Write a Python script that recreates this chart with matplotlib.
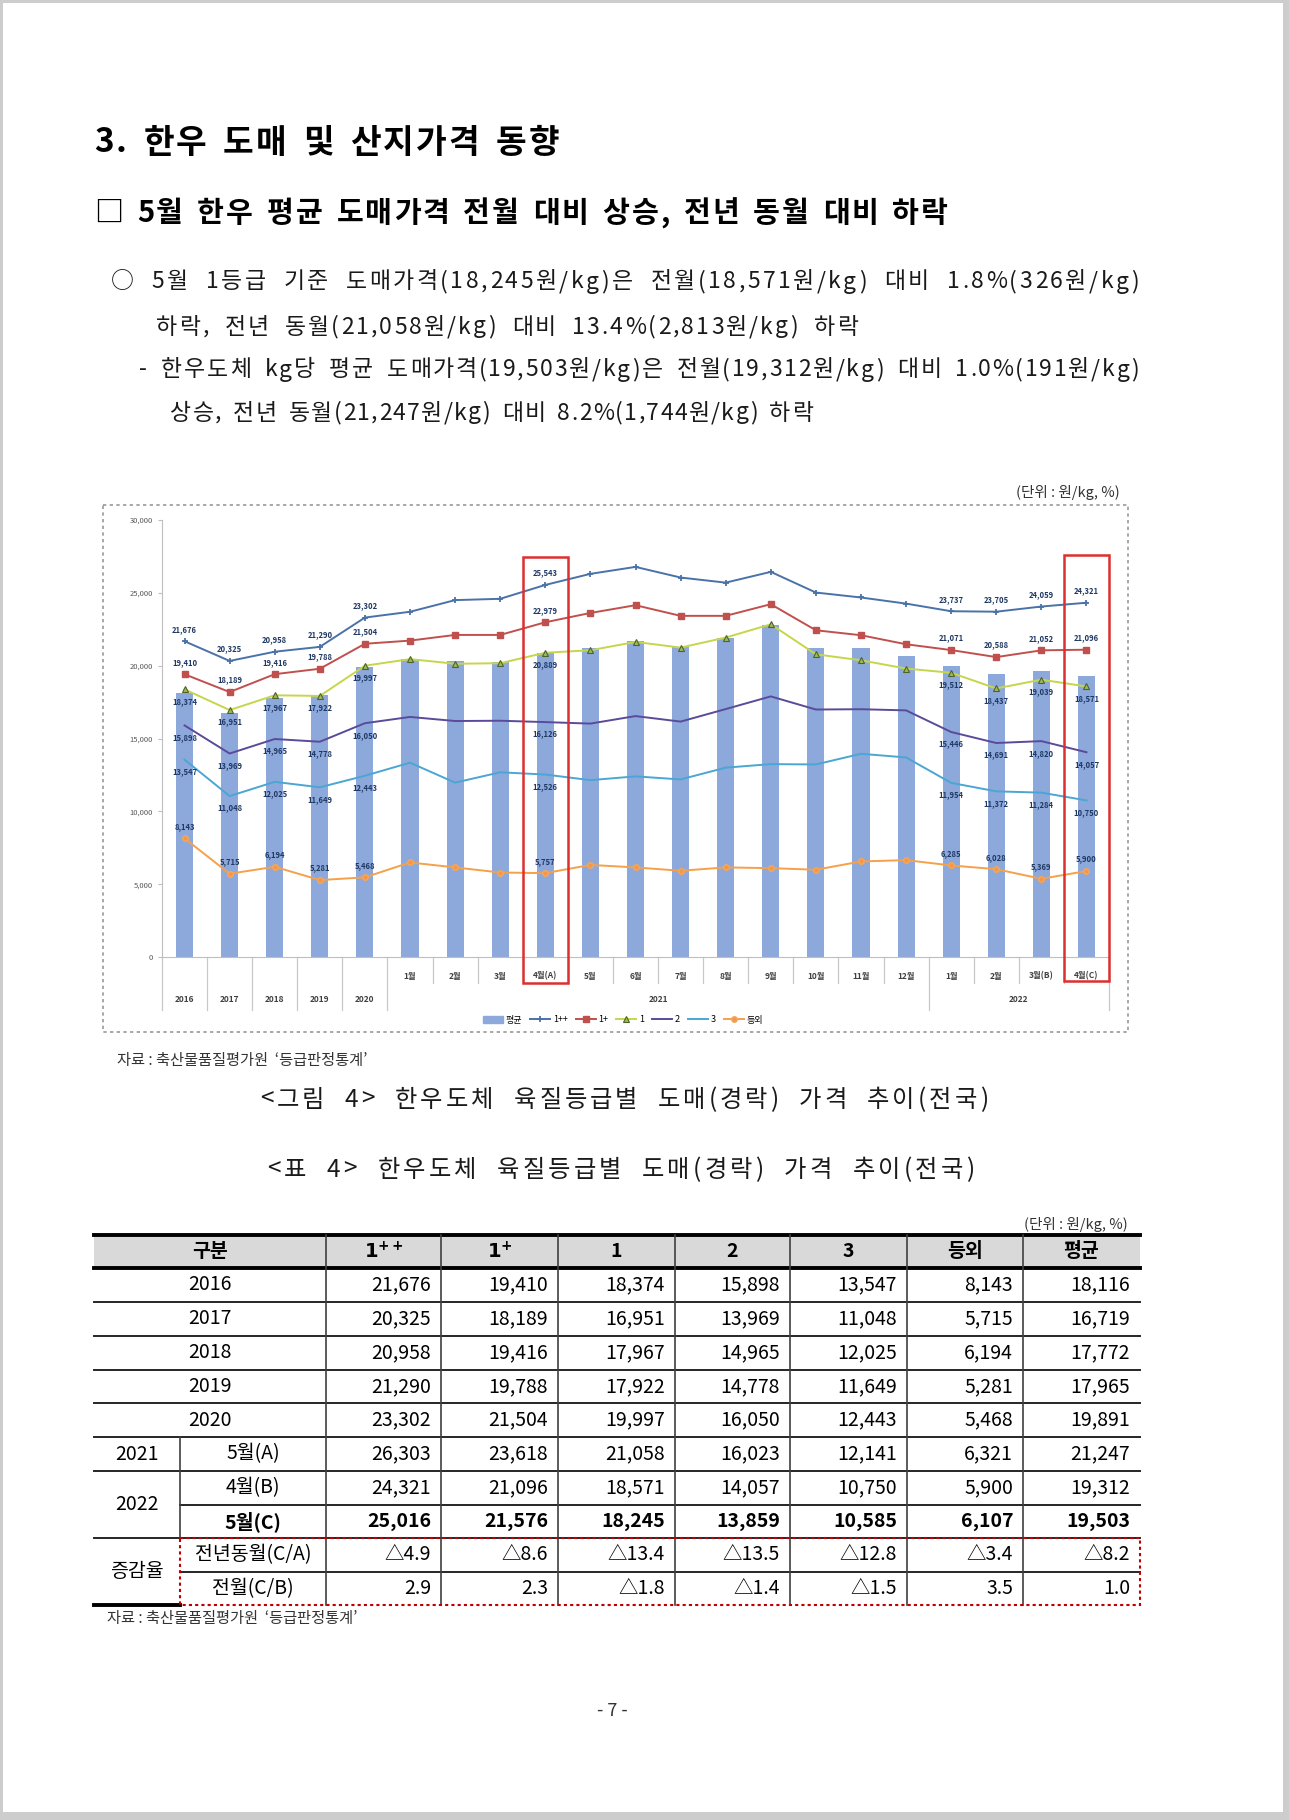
import matplotlib
matplotlib.use('Agg')
import matplotlib.pyplot as plt
from matplotlib.patches import Rectangle, Patch
from matplotlib.lines import Line2D
from matplotlib.ticker import FuncFormatter

plt.rcParams['font.family'] = ['Noto Sans CJK KR', 'DejaVu Sans']

W, H = 1289, 1820

# ---- chart data (원/kg) ----
categories = ['2016', '2017', '2018', '2019', '2020',
              '1월', '2월', '3월', '4월(A)', '5월', '6월', '7월', '8월', '9월',
              '10월', '11월', '12월', '1월', '2월', '3월(B)', '4월(C)']
groups = [('2021', 5, 16), ('2022', 17, 20)]
avg = [18116, 16719, 17772, 17965, 19891, 20480, 20300, 20250, 20850, 21247, 21680,
       21300, 21930, 22760, 21190, 21190, 20650, 19980, 19460, 19640, 19312]
g1pp = [21676, 20325, 20958, 21290, 23302, 23700, 24500, 24590, 25543, 26303, 26780,
        26050, 25700, 26440, 25020, 24680, 24260, 23737, 23705, 24059, 24321]
g1p = [19410, 18189, 19416, 19788, 21504, 21720, 22110, 22110, 22979, 23618, 24150,
       23420, 23420, 24220, 22430, 22090, 21470, 21071, 20588, 21052, 21096]
g1 = [18374, 16951, 17967, 17922, 19997, 20450, 20130, 20170, 20889, 21058, 21630,
      21240, 21930, 22840, 20780, 20370, 19800, 19512, 18437, 19039, 18571]
g2 = [15898, 13969, 14965, 14778, 16050, 16480, 16200, 16220, 16126, 16023, 16540,
      16160, 17020, 17890, 16990, 17010, 16930, 15446, 14691, 14820, 14057]
g3 = [13547, 11048, 12025, 11649, 12443, 13340, 11970, 12680, 12526, 12141, 12400,
      12190, 13000, 13240, 13220, 13950, 13700, 11954, 11372, 11284, 10750]
etc = [8143, 5715, 6194, 5281, 5468, 6490, 6150, 5800, 5757, 6321, 6150,
       5920, 6150, 6100, 5990, 6560, 6650, 6285, 6028, 5369, 5900]
label_idx = [0, 1, 2, 3, 4, 8, 17, 18, 19, 20]

# ---- table data ----
tbl_head = ['구분', r'$\mathbf{1^{++}}$', r'$\mathbf{1^{+}}$', '1', '2', '3', '등외', '평균']
tbl_rows = [('2016', None), ('2017', None), ('2018', None), ('2019', None), ('2020', None),
            ('2021', '5월(A)'), ('2022', '4월(B)'), ('2022', '5월(C)'),
            ('증감율', '전년동월(C/A)'), ('증감율', '전월(C/B)')]
tbl_vals = [
    [21676, 19410, 18374, 15898, 13547, 8143, 18116],
    [20325, 18189, 16951, 13969, 11048, 5715, 16719],
    [20958, 19416, 17967, 14965, 12025, 6194, 17772],
    [21290, 19788, 17922, 14778, 11649, 5281, 17965],
    [23302, 21504, 19997, 16050, 12443, 5468, 19891],
    [26303, 23618, 21058, 16023, 12141, 6321, 21247],
    [24321, 21096, 18571, 14057, 10750, 5900, 19312],
    [25016, 21576, 18245, 13859, 10585, 6107, 19503],
]
rate_ca = [-4.9, -8.6, -13.4, -13.5, -12.8, -3.4, -8.2]
rate_cb = [2.9, 2.3, -1.8, -1.4, -1.5, 3.5, 1.0]

title = '3. 한우 도매 및 산지가격 동향'
heading = '□ 5월 한우 평균 도매가격 전월 대비 상승, 전년 동월 대비 하락'
body = [
    ('○ 5월 1등급 기준 도매가격(18,245원/kg)은 전월(18,571원/kg) 대비 1.8%(326원/kg)', 111, 1139, 282),
    ('하락, 전년 동월(21,058원/kg) 대비 13.4%(2,813원/kg) 하락', 156, 858, 327),
    ('- 한우도체 kg당 평균 도매가격(19,503원/kg)은 전월(19,312원/kg) 대비 1.0%(191원/kg)', 139, 1139, 370),
    ('상승, 전년 동월(21,247원/kg) 대비 8.2%(1,744원/kg) 하락', 170, 813, 413),
]
source = '자료 : 축산물품질평가원  ‘등급판정통계’'
unit = '(단위 : 원/kg, %)'

fig = plt.figure(figsize=(W / 100, H / 100), dpi=100, facecolor='#cdcdcd')
page = fig.add_axes([0, 0, 1, 1], zorder=0)
page.set_xlim(0, W)
page.set_ylim(H, 0)
page.axis('off')
page.add_patch(Rectangle((3, 3), 1280, 1809, facecolor='white', edgecolor='none'))
rend = fig.canvas.get_renderer()

_wcache = {}


def char_w(ch, size, weight):
    key = (ch, size, weight)
    if key not in _wcache:
        if ch == ' ':
            a = page.text(0, 0, '가 가', fontsize=size, weight=weight)
            b = page.text(0, 0, '가가', fontsize=size, weight=weight)
            w = a.get_window_extent(rend).width - b.get_window_extent(rend).width
            a.remove()
            b.remove()
        else:
            t = page.text(0, 0, ch, fontsize=size, weight=weight)
            w = t.get_window_extent(rend).width
            t.remove()
        _wcache[key] = w
    return _wcache[key]


def track(s, x0, x1, y, size, weight='normal', color='#1a1a1a', space_share=3.0):
    """spread the characters of s from x0 to x1, gaps at spaces get a bigger share"""
    ws = [char_w(c, size, weight) for c in s]
    shares = [space_share if (c == ' ' or s[k + 1] == ' ') else 1.0
              for k, c in enumerate(s[:-1])]
    unit_gap = (x1 - x0 - sum(ws)) / sum(shares)
    x = x0
    for k, (c, w) in enumerate(zip(s, ws)):
        if c != ' ':
            page.text(x, y, c, fontsize=size, weight=weight, color=color,
                      ha='left', va='center')
        if k < len(shares):
            x += w + unit_gap * shares[k]


track(title, 94, 559, 143, 24, 'heavy', 'black', 2.0)
track(heading, 94, 948, 213, 21, 'heavy', 'black', 2.0)
for s, x0, x1, y in body:
    track(s, x0, x1, y, 16.5, space_share=2.5)

# ---- chart ----
page.text(1120, 493, unit, fontsize=10.5, ha='right', va='center', color='#333333')
page.add_patch(Rectangle((103, 505), 1025, 527, fill=False, edgecolor='#9a9a9a',
                         linestyle=(0, (2, 2)), linewidth=1.2))

top_px, zero_px = 520, 957
ax = fig.add_axes([162 / W, 1 - zero_px / H, (1109 - 162) / W, (zero_px - top_px) / H], zorder=2)
ax.set_facecolor('none')


def fy(py):
    return (zero_px - py) / (zero_px - top_px)


x = list(range(len(categories)))
ax.bar(x, avg, width=0.38, color='#8DA9DB', zorder=1)
series = [
    (g1pp, dict(color='#4a72a8', marker='+', ms=5, mew=1.3), 12),
    (g1p, dict(color='#c0504d', marker='s', ms=4), 12),
    (g1, dict(color='#c6d64a', marker='^', ms=5, mfc='#9BBB59', mec='#4F6228', mew=0.8), -12),
    (g2, dict(color='#5b4a9a'), -12),
    (g3, dict(color='#4aa6d2'), -12),
    (etc, dict(color='#f5a04a', marker='o', ms=4, mfc='#f79646', mec='#f0a860'), 12),
]
for vals, st, off in series:
    ax.plot(x, vals, lw=1.4, zorder=3, **st)
    for i in label_idx:
        ax.annotate(f'{vals[i]:,}', (i, vals[i]), xytext=(0, off), textcoords='offset pixels',
                    ha='center', va='center', fontsize=5.5, weight='bold', color='#1F3864',
                    zorder=4)

ax.set_xlim(-0.5, len(categories) - 0.5)
ax.set_ylim(0, 30000)
ax.set_yticks(range(0, 30001, 5000))
ax.yaxis.set_major_formatter(FuncFormatter(lambda v, p: f'{int(v):,}'))
ax.tick_params(axis='y', labelsize=5.5, labelcolor='#595959', color='#bfbfbf', length=3)
ax.tick_params(axis='x', length=0, labelbottom=False)
for sp in ['top', 'right']:
    ax.spines[sp].set_visible(False)
for sp in ['left', 'bottom']:
    ax.spines[sp].set_color('#bfbfbf')

xt = ax.get_xaxis_transform()
for i, c in enumerate(categories):
    row = fy(1000) if i < 5 else fy(976)
    ax.text(i, row, c, transform=xt, ha='center', va='center', fontsize=6,
            weight='bold', color='#404040')
for g, a, b in groups:
    ax.text((a + b) / 2, fy(1000), g, transform=xt, ha='center', va='center',
            fontsize=6, weight='bold', color='#404040')
long_sep = [-0.5, 0.5, 1.5, 2.5, 3.5, 4.5, 16.5, 20.5]
for k in range(len(categories) + 1):
    b = k - 0.5
    end = 1010 if b in long_sep else 983
    ax.plot([b, b], [0, fy(end)], transform=xt, color='#c8c8c8', lw=0.9, clip_on=False)

for i0, ptop, pbot in [(8, 557, 983), (20, 555, 981)]:
    ax.add_patch(Rectangle((i0 - 0.5, fy(pbot)), 1, fy(ptop) - fy(pbot), transform=xt,
                           fill=False, edgecolor='#dc2f2f', lw=1.8, clip_on=False, zorder=5))

handles = [Patch(color='#8DA9DB')] + [Line2D([], [], lw=1.4, **st) for _, st, _ in series]
fig.legend(handles, ['평균', '1++', '1+', '1', '2', '3', '등외'], loc='center',
           bbox_to_anchor=(623 / W, 1 - 1020 / H), ncol=7, fontsize=6.5, frameon=False,
           handlelength=2.2, handletextpad=0.3, columnspacing=0.9)

page.text(117, 1060, source, fontsize=11, ha='left', va='center', color='#333333')
track('<그림 4> 한우도체 육질등급별 도매(경락) 가격 추이(전국)', 260, 988, 1100, 17.5, space_share=2.5)
track('<표 4> 한우도체 육질등급별 도매(경락) 가격 추이(전국)', 267, 974, 1170, 17.5, space_share=2.5)

# ---- table ----
page.text(1128, 1225, unit, fontsize=10.5, ha='right', va='center', color='#333333')
cx = [94, 180, 326, 441, 558, 675, 790, 907, 1023, 1140]
ry = [1235, 1268, 1302, 1336, 1370, 1403, 1437, 1471, 1505, 1538, 1572, 1605]
red = '#c00000'
page.add_patch(Rectangle((cx[0], ry[0]), cx[-1] - cx[0], ry[1] - ry[0],
                         facecolor='#d9d9d9', edgecolor='none'))
for y, x0 in [(ry[2], 94), (ry[3], 94), (ry[4], 94), (ry[5], 94), (ry[6], 94), (ry[7], 94),
              (ry[8], 180), (ry[9], 94), (ry[10], 180)]:
    page.plot([x0, cx[-1]], [y, y], color='#262626', lw=1.4)
for y in [ry[0], ry[1]]:
    page.plot([cx[0], cx[-1]], [y, y], color='black', lw=2.8)
page.plot([cx[0], cx[1]], [ry[-1], ry[-1]], color='black', lw=2.8)
for xv in cx[2:-1]:
    page.plot([xv, xv], [ry[0], ry[-1]], color='#404040', lw=1.2)
page.plot([180, 180], [ry[6], ry[9]], color='#404040', lw=1.2)
page.add_patch(Rectangle((180, ry[9]), cx[-1] - 180, ry[-1] - ry[9], fill=False,
                         edgecolor=red, linestyle=(0, (1.5, 1.5)), lw=1.5, zorder=3))

mid = lambda a, b: (a + b) / 2
ty = [mid(ry[k], ry[k + 1]) for k in range(len(ry) - 1)]
page.text(mid(cx[0], cx[2]), ty[0], tbl_head[0], fontsize=14, weight='bold', ha='center', va='center')
for j, h in enumerate(tbl_head[1:]):
    page.text(mid(cx[j + 2], cx[j + 3]), ty[0], h, fontsize=14, weight='bold',
              ha='center', va='center')

for k, (a, b) in enumerate(tbl_rows):
    yy = ty[k + 1]
    bold = 'bold' if k == 7 else 'normal'
    if b is None:
        page.text(mid(cx[0], cx[2]), yy, a, fontsize=14, ha='center', va='center')
    else:
        page.text(mid(cx[1], cx[2]), yy, b, fontsize=14, ha='center', va='center', weight=bold)
    if k < 8:
        cells = [f'{v:,}' for v in tbl_vals[k]]
    else:
        rates = rate_ca if k == 8 else rate_cb
        cells = [f'△{abs(v):.1f}' if v < 0 else f'{v:.1f}' for v in rates]
    for j, s in enumerate(cells):
        page.text(cx[j + 3] - 10, yy, s, fontsize=14, ha='right', va='center', weight=bold)
page.text(mid(cx[0], cx[1]), ty[6], '2021', fontsize=14, ha='center', va='center')
page.text(mid(cx[0], cx[1]), mid(ry[7], ry[9]), '2022', fontsize=14, ha='center', va='center')
page.text(mid(cx[0], cx[1]), mid(ry[9], ry[11]), '증감율', fontsize=14, ha='center', va='center')

page.text(107, 1618, source, fontsize=11, ha='left', va='center', color='#333333')
page.text(612, 1711, '- 7 -', fontsize=13, ha='center', va='center', color='#333333')

fig.savefig('out.png', dpi=100, facecolor=fig.get_facecolor())
